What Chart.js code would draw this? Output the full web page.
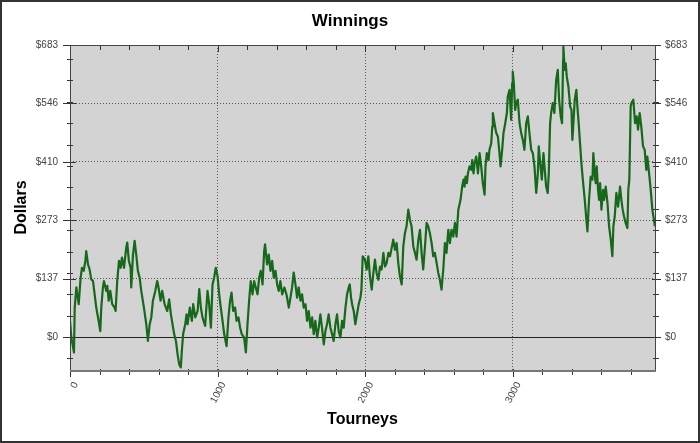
<!DOCTYPE html>
<html>
<head>
<meta charset="utf-8">
<script src="https://cdn.jsdelivr.net/npm/chart.js@4.4.1/dist/chart.umd.min.js"></script>
<style>
  html, body { margin: 0; padding: 0; background: #fff; }
  #wrap { width: 700px; height: 443px; }
</style>
</head>
<body>
<div id="wrap"><canvas id="winChart" width="700" height="443"></canvas></div>
<script>
// tourney number (x) and running winnings in dollars (y)
const tourneys = [
  0, 9, 27, 32, 43, 59, 72, 81, 93, 104, 110, 122, 133, 144, 156, 167, 178, 194, 205, 212,
  223, 230, 246, 253, 262, 273, 286, 302, 309, 320, 332, 343, 352, 366, 381, 388, 399, 411, 415, 427,
  438, 449, 460, 472, 483, 501, 517, 528, 540, 551, 562, 578, 591, 600, 614, 625, 641, 659, 672, 684,
  706, 718, 729, 740, 751, 758, 767, 781, 790, 797, 812, 826, 835, 849, 865, 876, 887, 898, 916, 932,
  943, 955, 966, 977, 988, 1000, 1011, 1022, 1034, 1045, 1061, 1074, 1085, 1095, 1106, 1119, 1129, 1142, 1153, 1164,
  1180, 1192, 1203, 1214, 1225, 1237, 1248, 1259, 1271, 1282, 1293, 1305, 1316, 1322, 1336, 1347, 1359, 1370, 1381, 1393,
  1404, 1415, 1426, 1438, 1453, 1467, 1483, 1494, 1505, 1516, 1528, 1539, 1550, 1562, 1573, 1584, 1596, 1607, 1618, 1630,
  1641, 1652, 1663, 1675, 1686, 1697, 1708, 1720, 1731, 1742, 1753, 1765, 1776, 1787, 1799, 1810, 1821, 1833, 1844, 1855,
  1867, 1878, 1889, 1896, 1905, 1912, 1923, 1934, 1945, 1957, 1968, 1975, 1984, 1999, 2011, 2022, 2033, 2045, 2056, 2067,
  2078, 2090, 2101, 2112, 2124, 2135, 2146, 2158, 2169, 2180, 2191, 2203, 2214, 2225, 2236, 2248, 2259, 2270, 2281, 2293,
  2304, 2315, 2327, 2338, 2349, 2361, 2372, 2383, 2394, 2406, 2417, 2428, 2439, 2451, 2462, 2473, 2485, 2496, 2507, 2518,
  2530, 2541, 2552, 2564, 2575, 2586, 2598, 2609, 2620, 2632, 2647, 2658, 2667, 2674, 2681, 2690, 2697, 2708, 2720, 2726,
  2735, 2742, 2753, 2765, 2776, 2787, 2798, 2810, 2816, 2825, 2837, 2843, 2855, 2862, 2866, 2877, 2889, 2900, 2911, 2918,
  2929, 2938, 2950, 2961, 2967, 2979, 2990, 2997, 3001, 3008, 3017, 3024, 3035, 3047, 3058, 3069, 3080, 3092, 3103, 3114,
  3126, 3137, 3148, 3160, 3171, 3177, 3187, 3198, 3209, 3216, 3227, 3238, 3245, 3254, 3261, 3272, 3283, 3295, 3306, 3315,
  3326, 3335, 3342, 3344, 3353, 3360, 3367, 3378, 3390, 3399, 3405, 3412, 3421, 3432, 3439, 3446, 3457, 3466, 3478, 3489,
  3500, 3507, 3518, 3529, 3541, 3547, 3556, 3563, 3570, 3579, 3586, 3593, 3602, 3613, 3620, 3631, 3643, 3654, 3665, 3676,
  3683, 3692, 3703, 3715, 3728, 3737, 3746, 3755, 3766, 3778, 3784, 3791, 3800, 3805, 3818, 3830, 3841, 3850, 3861, 3872,
  3884, 3895, 3906, 3913, 3925, 3936, 3947, 3958, 3964
];
const winnings = [
  38, -1, -36, 69, 116, 77, 139, 162, 155, 178, 201, 170, 158, 135, 131, 100, 69, 38, 14, 69,
  116, 131, 108, 120, 85, 108, 77, 69, 61, 131, 178, 162, 186, 162, 209, 221, 178, 162, 116, 193,
  225, 193, 155, 139, 108, 69, 30, -9, 30, 46, 85, 108, 131, 116, 85, 108, 77, 61, 88, 53,
  7, -9, -40, -64, -71, -32, 7, 30, 53, 30, 69, 38, 77, 46, 61, 112, 69, 46, 26, 108,
  77, 22, 123, 139, 162, 143, 100, 69, 38, 7, -21, 46, 85, 104, 61, 69, 38, 46, 22, 7,
  -1, -36, 30, 85, 131, 100, 131, 116, 100, 139, 155, 123, 201, 217, 170, 193, 155, 178, 139, 155,
  123, 108, 131, 100, 116, 100, 69, 92, 116, 151, 123, 92, 116, 85, 100, 69, 77, 38, 61, 22,
  46, 7, 38, -1, 22, 53, 22, -17, 14, 30, 53, 22, 7, -9, 30, 53, 14, -1, 38, 22,
  69, 100, 116, 123, 92, 77, 61, 30, 53, 77, 92, 110, 189, 181, 158, 189, 142, 111, 150, 181,
  150, 134, 165, 158, 197, 165, 173, 197, 189, 208, 228, 204, 220, 173, 142, 123, 212, 243, 259, 298,
  274, 259, 212, 197, 181, 228, 251, 197, 158, 212, 267, 259, 243, 220, 189, 197, 173, 150, 134, 111,
  158, 220, 197, 251, 220, 251, 235, 267, 235, 298, 321, 352, 368, 352, 375, 360, 383, 399, 391, 414,
  383, 407, 422, 383, 430, 399, 360, 333, 399, 430, 414, 438, 453, 492, 524, 500, 477, 469, 430, 399,
  438, 477, 500, 524, 562, 578, 508, 594, 621, 594, 531, 547, 555, 500, 477, 461, 438, 500, 516, 477,
  438, 430, 399, 337, 383, 446, 407, 368, 430, 399, 352, 337, 383, 500, 524, 547, 524, 601, 625, 555,
  516, 500, 648, 679, 625, 640, 609, 586, 539, 531, 461, 500, 555, 578, 539, 508, 453, 407, 360, 321,
  274, 247, 321, 375, 368, 430, 383, 360, 399, 344, 321, 360, 298, 344, 321, 352, 313, 259, 228, 189,
  259, 282, 337, 305, 352, 321, 298, 282, 267, 255, 344, 368, 539, 547, 555, 500, 516, 485, 524, 492,
  446, 438, 391, 422, 383, 344, 298, 274, 259
];
const xTickValues = [0, 1000, 2000, 3000];
const yTickValues = [0, 136.6, 273.2, 409.8, 546.4, 683];
const yTickLabels = ['$0', '$137', '$273', '$410', '$546', '$683'];

const FONT = "'Liberation Sans', Arial, sans-serif";

// background, frame, zero line and the small tick marks round the plot
const plotDecor = {
  id: 'plotDecor',
  beforeDraw(chart) {
    const { ctx, chartArea: a } = chart;
    ctx.save();
    ctx.fillStyle = '#fff';
    ctx.fillRect(0, 0, chart.width, chart.height);
    ctx.fillStyle = '#d3d3d3';
    ctx.fillRect(a.left, a.top, a.right - a.left, a.bottom - a.top);
    ctx.restore();
  },
  beforeDatasetsDraw(chart) {
    const { ctx, chartArea: a } = chart;
    const y0 = Math.round(chart.scales.y.getPixelForValue(0)) + 0.5;
    ctx.save();
    ctx.strokeStyle = '#222';
    ctx.lineWidth = 1;
    ctx.beginPath();
    ctx.moveTo(a.left, y0);
    ctx.lineTo(a.right, y0);
    ctx.stroke();
    ctx.restore();
  },
  afterDraw(chart) {
    const { ctx, chartArea: a } = chart;
    const xs = chart.scales.x, ys = chart.scales.y;
    ctx.save();
    ctx.lineWidth = 1;
    ctx.strokeStyle = '#333';
    ctx.beginPath();
    for (let v = -50; v <= 650; v += 50) {
      const py = Math.round(ys.getPixelForValue(v)) + 0.5;
      ctx.moveTo(a.left - 3, py); ctx.lineTo(a.left + 3, py);
      ctx.moveTo(a.right - 2, py); ctx.lineTo(a.right + 4, py);
    }
    yTickValues.forEach(v => {
      const py = Math.round(ys.getPixelForValue(v)) + 0.5;
      ctx.moveTo(a.left - 7, py); ctx.lineTo(a.left + 6, py);
      ctx.moveTo(a.right - 3, py); ctx.lineTo(a.right + 6, py);
    });
    for (let v = 0; v <= 3800; v += 200) {
      const px = Math.round(xs.getPixelForValue(v)) + 0.5;
      const len = v % 1000 === 0 ? 7 : 5;
      ctx.moveTo(px, a.bottom - 1); ctx.lineTo(px, a.bottom + len);
      ctx.moveTo(px, a.top); ctx.lineTo(px, a.top + len);
    }
    ctx.stroke();

    // plot frame
    ctx.strokeStyle = '#444';
    ctx.strokeRect(Math.round(a.left) + 0.5, Math.round(a.top) + 0.5,
      Math.round(a.right - a.left), Math.round(a.bottom - a.top));
    ctx.strokeStyle = '#777';
    ctx.lineWidth = 2;
    ctx.beginPath();
    ctx.moveTo(a.left, a.bottom + 1); ctx.lineTo(a.right + 1, a.bottom + 1);
    ctx.stroke();

    // outer picture border
    ctx.strokeStyle = '#333';
    ctx.lineWidth = 2;
    ctx.strokeRect(1, 1, chart.width - 2, chart.height - 2);
    ctx.restore();
  }
};

const ctx = document.getElementById('winChart').getContext('2d');

new Chart(ctx, {
  type: 'line',
  data: {
    datasets: [{
      label: 'Winnings',
      data: tourneys.map((t, i) => ({ x: t, y: winnings[i] })),
      borderColor: '#16681a',
      borderWidth: 2.2,
      borderJoinStyle: 'round',
      pointRadius: 0,
      tension: 0,
      fill: false
    }]
  },
  options: {
    responsive: false,
    animation: false,
    devicePixelRatio: 1,
    layout: { padding: 0 },
    plugins: {
      legend: { display: false },
      tooltip: { enabled: false },
      title: {
        display: true,
        text: 'Winnings',
        color: '#000',
        font: { family: FONT, size: 17, weight: 'bold' },
        padding: { top: 11, bottom: 0 }
      }
    },
    scales: {
      x: {
        type: 'linear',
        position: 'bottom',
        min: 0,
        max: 3965,
        afterBuildTicks: s => { s.ticks = xTickValues.map(v => ({ value: v })); },
        afterFit: s => { s.height = 73; },
        ticks: {
          autoSkip: false,
          minRotation: 62,
          maxRotation: 62,
          padding: 10,
          labelOffset: 6,
          color: '#444',
          font: { family: FONT, size: 10 },
          callback: v => String(v)
        },
        grid: {
          drawTicks: false,
          color: ctx => ctx.tick && ctx.tick.value === 0 ? 'rgba(0,0,0,0)' : '#555'
        },
        border: { display: false, dash: [1, 2] },
        title: {
          display: true,
          text: 'Tourneys',
          color: '#000',
          font: { family: FONT, size: 16, weight: 'bold' },
          padding: { top: 0, bottom: 14 }
        }
      },
      xTop: {
        type: 'linear',
        position: 'top',
        min: 0,
        max: 3965,
        afterFit: s => { s.height = 13.6; },
        ticks: { display: false },
        grid: { display: false, drawTicks: false },
        border: { display: false }
      },
      y: {
        type: 'linear',
        position: 'left',
        min: -77,
        max: 683,
        afterBuildTicks: s => { s.ticks = yTickValues.map(v => ({ value: v })); },
        afterFit: s => { s.width = 70; },
        ticks: {
          padding: 12,
          color: '#444',
          font: { family: FONT, size: 10 },
          callback: (v, i) => yTickLabels[i]
        },
        grid: {
          drawTicks: false,
          color: ctx => ctx.tick && (ctx.tick.value === 0 || ctx.tick.value === 683) ? 'rgba(0,0,0,0)' : '#555'
        },
        border: { display: false, dash: [1, 2] },
        title: {
          display: true,
          text: 'Dollars',
          color: '#000',
          font: { family: FONT, size: 16, weight: 'bold' },
          padding: { top: 12, bottom: 0 }
        }
      },
      y2: {
        type: 'linear',
        position: 'right',
        min: -77,
        max: 683,
        afterBuildTicks: s => { s.ticks = yTickValues.map(v => ({ value: v })); },
        afterFit: s => { s.width = 45; },
        ticks: {
          padding: 10,
          color: '#444',
          font: { family: FONT, size: 10 },
          callback: (v, i) => yTickLabels[i]
        },
        grid: { drawOnChartArea: false, drawTicks: false },
        border: { display: false }
      }
    }
  },
  plugins: [plotDecor]
});
</script>
</body>
</html>
